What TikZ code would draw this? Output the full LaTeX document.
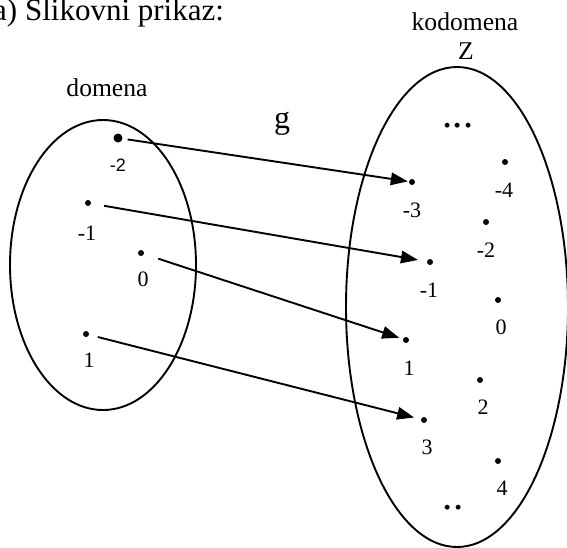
\documentclass[tikz,border=0pt]{standalone}
\usepackage{fontspec}
\setmainfont{Liberation Serif}
\newfontfamily\arialfont{Liberation Sans}
\usetikzlibrary{arrows.meta}
\tikzset{
  pt/.style={circle,fill=black,inner sep=0pt,minimum size=6pt},
  bigpt/.style={circle,fill=black,inner sep=0pt,minimum size=9pt},
  num/.style={inner sep=0pt,font=\fontsize{22}{26}\selectfont},
  word/.style={inner sep=0pt,font=\fontsize{25.6}{30}\selectfont},
  setline/.style={line width=1.9pt},
  maparrow/.style={line width=1.9pt,-{Triangle[length=17pt,width=12.5pt]}}
}
\begin{document}
\begin{tikzpicture}[x=1pt,y=-1pt]
\useasboundingbox (0,0) rectangle (567,547);
\clip (0,0) rectangle (567,547);
% title (cut off at top)
\node[anchor=base west,inner sep=0pt,font=\fontsize{31}{34}\selectfont] (title) at (-7,20) {a) Slikovni prikaz:};
% sets
\draw[setline] (103,265) ellipse [x radius=93, y radius=145];
\draw[setline] (457,307) ellipse [x radius=111, y radius=240];
\node[word] (domena) at (107,88) {domena};
\node[word] (kodomena) at (465,22) {kodomena};
\node[word] (Z) at (466,51) {Z};
\node[inner sep=0pt,font=\fontsize{32}{36}\selectfont] (g) at (282,124) {g};
% domain points
\node[bigpt] (dm2) at (118,138) {};
\node[pt] (dm1) at (88,203) {};
\node[pt] (d0) at (141,253) {};
\node[pt] (d1) at (86,334) {};
\node[inner sep=0pt,font=\arialfont\fontsize{18}{22}\selectfont] (ldm2) at (118,165) {-2};
\node[num] (ldm1) at (87,233) {-1};
\node[num] (ld0) at (143,279) {0};
\node[num] (ld1) at (89,360) {1};
% codomain points
\node[inner sep=0pt,font=\fontsize{41}{44}\selectfont] (topdots) at (458,126) {...};
\node[pt] (cm4) at (505,162) {};
\node[pt] (cm3) at (412,182) {};
\node[pt] (cm2) at (486,222) {};
\node[pt] (cm1) at (430,262) {};
\node[pt] (c0) at (498,300) {};
\node[pt] (c1) at (406,340) {};
\node[pt] (c2) at (480,380) {};
\node[pt] (c3) at (424,420) {};
\node[pt] (c4) at (498,461) {};
\node[inner sep=0pt,font=\fontsize{41}{44}\selectfont] (botdots) at (453,508) {..};
\node[num] (lcm4) at (504,190) {-4};
\node[num] (lcm3) at (412,210) {-3};
\node[num] (lcm2) at (486,250) {-2};
\node[num] (lcm1) at (429,290) {-1};
\node[num] (lc0) at (501,327) {0};
\node[num] (lc1) at (409,368) {1};
\node[num] (lc2) at (483,407) {2};
\node[num] (lc3) at (427,447) {3};
\node[num] (lc4) at (502,488) {4};
% mapping arrows
\draw[maparrow,shorten <=5pt,shorten >=1pt] (dm2) -- (cm3);
\draw[maparrow,shorten <=13pt,shorten >=9pt] (dm1) -- (cm1);
\draw[maparrow,shorten <=15pt,shorten >=4pt] (d0) -- (c1);
\draw[maparrow,shorten <=9pt,shorten >=7pt] (d1) -- (c3);
\end{tikzpicture}
\end{document}
